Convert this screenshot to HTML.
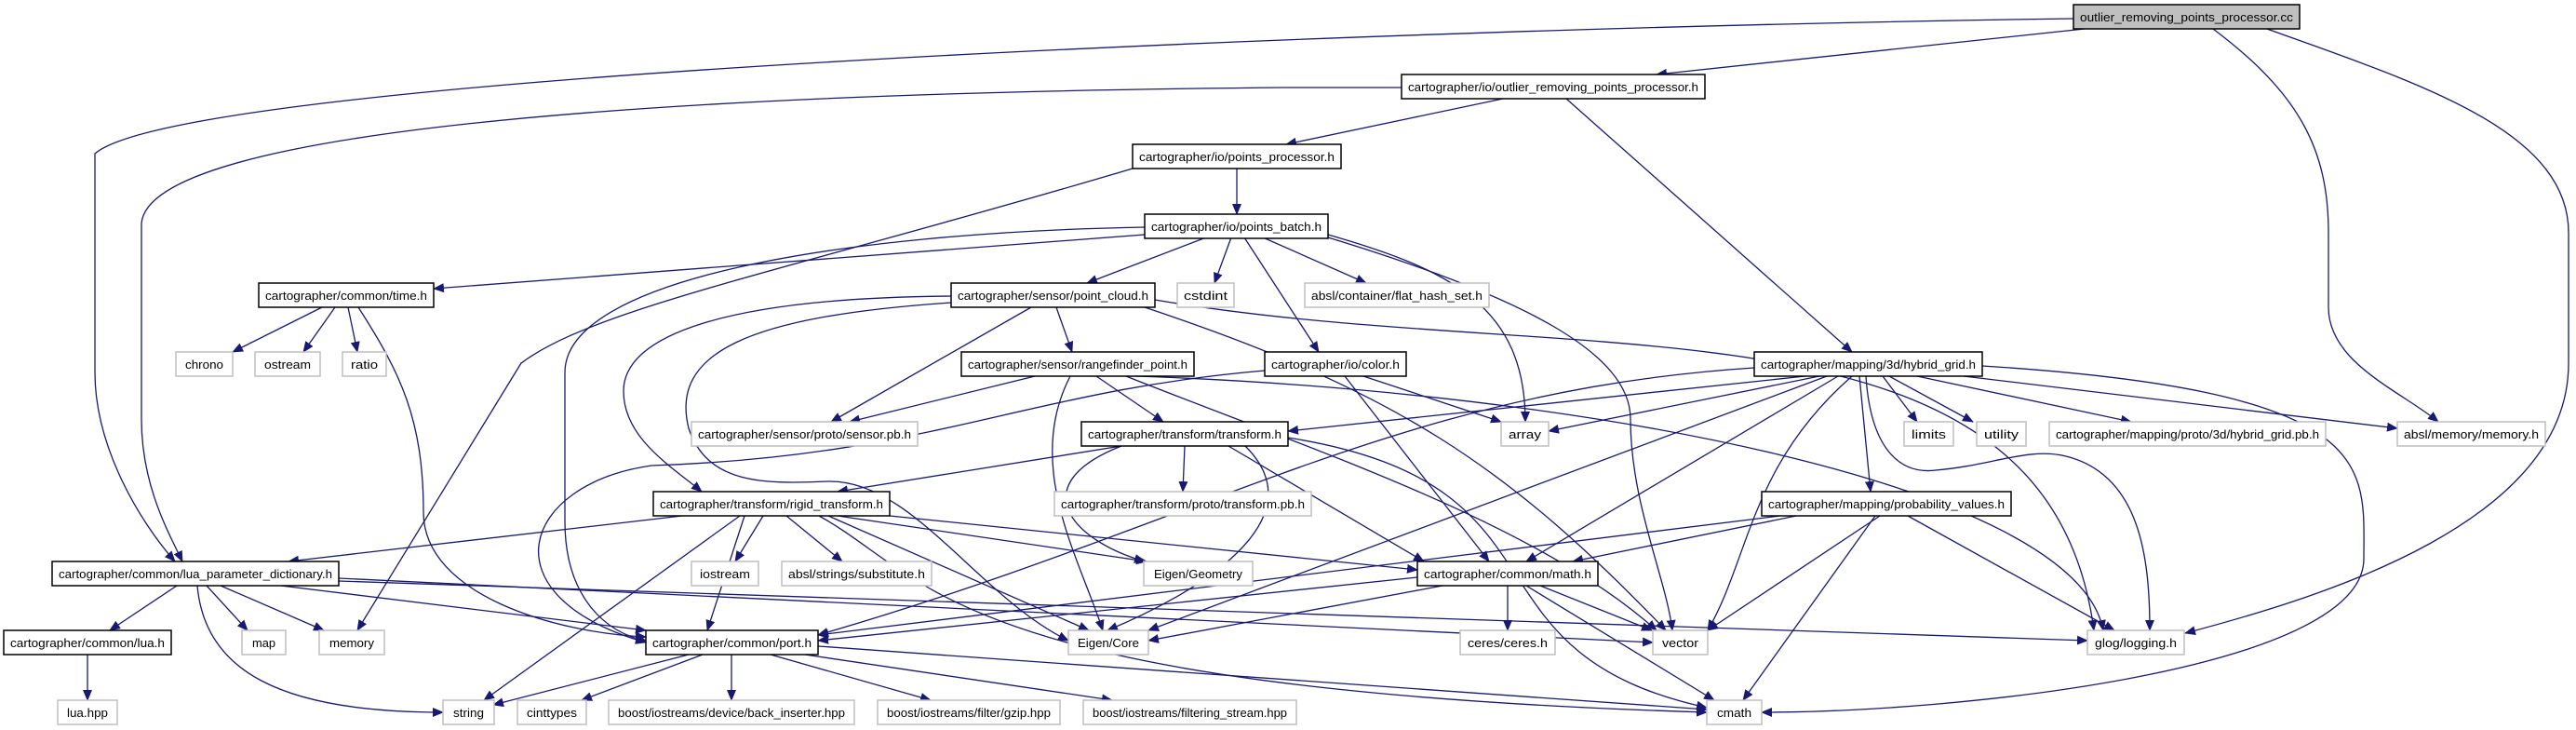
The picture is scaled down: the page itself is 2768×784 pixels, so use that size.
<!DOCTYPE html>
<html><head><meta charset="utf-8"><style>
html,body{margin:0;padding:0;background:#fff;}
svg{display:block;}
text{font-family:"Liberation Sans",sans-serif;font-size:13px;fill:#000;}
.e{fill:none;stroke:#191970;stroke-width:1.3;}
.b{fill:#fff;stroke:#000;stroke-width:1.5;}
.g{fill:#fff;stroke:#bfbfbf;stroke-width:1.5;}
</style></head><body>
<svg width="2768" height="784" viewBox="0 0 2768 784" xmlns="http://www.w3.org/2000/svg">
<defs><marker id="a" markerWidth="12" markerHeight="10" refX="11" refY="5" orient="auto" markerUnits="userSpaceOnUse"><path d="M0,0 L12,5 L0,10 z" fill="#191970"/></marker></defs>
<g class="e" marker-end="url(#a)">
<path d="M2240,31 L1780,80"/>
<path d="M2228,20 C1500,30 200,80 102,165 L102,400 C102,480 150,560 188,603"/>
<path d="M2378,31 C2470,100 2502,160 2502,250 L2502,330 C2502,390 2580,420 2620,453"/>
<path d="M2436,31 C2600,90 2760,140 2760,250 L2760,390 C2760,560 2500,640 2348,680"/>
<path d="M1615,106 L1382,155"/>
<path d="M1506,94 L1380,94 C700,100 160,140 152,240 L152,450 C152,520 180,570 196,603"/>
<path d="M1683,106 L1990,378"/>
<path d="M1329,181 L1329,230"/>
<path d="M1217,181 C850,290 640,330 560,390 L384,677"/>
<path d="M1230,252 L466,310"/>
<path d="M1296,255 L1168,304"/>
<path d="M1323,255 L1305,304"/>
<path d="M1357,255 L1468,304"/>
<path d="M1337,255 L1417,378"/>
<path d="M1427,252 C1560,290 1639,330 1639,453"/>
<path d="M1427,255 C1640,320 1752,380 1752,450 C1752,540 1790,620 1797,677"/>
<path d="M1230,244 C900,250 607,300 607,400 L607,560 C607,640 650,680 694,688"/>
<path d="M346,330 L250,378"/>
<path d="M360,330 L326,378"/>
<path d="M374,330 L384,378"/>
<path d="M385,330 C430,400 455,450 455,550 C455,640 600,680 694,684"/>
<path d="M1135,330 L1152,378"/>
<path d="M1108,330 L893,453"/>
<path d="M1022,318 C780,320 670,360 670,420 C670,470 720,500 754,528"/>
<path d="M1022,325 C800,340 720,380 740,460 C760,520 820,520 890,517 C980,515 1050,640 1148,688"/>
<path d="M1230,330 C1500,420 1620,500 1790,677"/>
<path d="M1241,322 C1700,400 2200,300 2250,677"/>
<path d="M1112,404 L913,453"/>
<path d="M1178,404 L1250,453"/>
<path d="M1150,404 C1100,500 1160,600 1185,677"/>
<path d="M1210,404 C1400,480 1650,560 1780,677"/>
<path d="M1220,404 C1700,420 2230,520 2260,677"/>
<path d="M1465,404 L1613,453"/>
<path d="M1445,404 L1600,603"/>
<path d="M1359,398 C1100,420 1000,490 700,500 C560,520 520,640 694,690"/>
<path d="M1205,479 L900,528"/>
<path d="M1273,479 L1271,528"/>
<path d="M1205,479 C1100,520 1150,580 1230,603"/>
<path d="M1320,479 L1530,603"/>
<path d="M1338,479 C1420,560 1280,640 1190,677"/>
<path d="M1384,470 C1700,520 1560,700 1834,760"/>
<path d="M733,554 L310,603"/>
<path d="M820,554 L790,603"/>
<path d="M845,554 L905,603"/>
<path d="M900,554 L1232,603"/>
<path d="M956,554 L1523,612"/>
<path d="M890,554 L1170,677"/>
<path d="M800,554 L760,677"/>
<path d="M795,554 L520,752"/>
<path d="M880,554 C1000,620 1020,740 1834,765"/>
<path d="M190,629 L118,677"/>
<path d="M222,629 L266,677"/>
<path d="M237,629 L348,677"/>
<path d="M302,629 L694,677"/>
<path d="M212,629 C220,720 300,765 476,765"/>
<path d="M364,621 L1776,690"/>
<path d="M364,624 L2243,688"/>
<path d="M94,703 L94,752"/>
<path d="M740,703 L530,757"/>
<path d="M755,703 L625,752"/>
<path d="M786,703 L786,752"/>
<path d="M828,703 L1000,752"/>
<path d="M865,703 L1195,752"/>
<path d="M879,694 L1834,762"/>
<path d="M1523,620 L879,688"/>
<path d="M1550,629 L1234,688"/>
<path d="M1620,629 L1620,677"/>
<path d="M1655,629 L1775,677"/>
<path d="M1640,629 L1842,752"/>
<path d="M1930,554 L1690,603"/>
<path d="M1913,554 L879,682"/>
<path d="M2020,554 L1835,677"/>
<path d="M2015,554 L1873,752"/>
<path d="M2050,554 L2272,677"/>
<path d="M1940,404 L1384,463"/>
<path d="M1955,404 L1664,463"/>
<path d="M2023,404 L2060,453"/>
<path d="M2030,404 L2120,453"/>
<path d="M2060,404 L2290,453"/>
<path d="M2110,404 L2576,460"/>
<path d="M1975,404 L1640,603"/>
<path d="M1963,404 L1234,677"/>
<path d="M1990,404 C1880,500 1880,600 1835,677"/>
<path d="M1998,404 L2010,528"/>
<path d="M2005,404 C2010,480 2040,510 2080,505 C2140,500 2180,480 2220,490 C2300,510 2310,600 2310,677"/>
<path d="M2130,393 C2560,420 2540,500 2540,600 C2540,720 2100,765 1893,765"/>
<path d="M1885,395 C1500,420 1300,560 879,682"/>
</g>
<g>
<rect x="2228" y="5" width="243" height="26" fill="#bfbfbf" stroke="#000" stroke-width="1.5"/>
<text x="2235" y="23" textLength="229" lengthAdjust="spacingAndGlyphs">outlier_removing_points_processor.cc</text>
</g>
<g>
<rect class="b" x="1506" y="80" width="326" height="26"/><text x="1513" y="98" textLength="312" lengthAdjust="spacingAndGlyphs">cartographer/io/outlier_removing_points_processor.h</text>
<rect class="b" x="1217" y="155" width="224" height="26"/><text x="1224" y="173" textLength="210" lengthAdjust="spacingAndGlyphs">cartographer/io/points_processor.h</text>
<rect class="b" x="1230" y="230" width="197" height="26"/><text x="1237" y="248" textLength="183" lengthAdjust="spacingAndGlyphs">cartographer/io/points_batch.h</text>
<rect class="b" x="278" y="304" width="188" height="26"/><text x="285" y="322" textLength="174" lengthAdjust="spacingAndGlyphs">cartographer/common/time.h</text>
<rect class="b" x="1022" y="304" width="219" height="26"/><text x="1029" y="322" textLength="205" lengthAdjust="spacingAndGlyphs">cartographer/sensor/point_cloud.h</text>
<rect class="g" x="1265" y="304" width="61" height="26"/><text x="1272" y="322" textLength="47" lengthAdjust="spacingAndGlyphs">cstdint</text>
<rect class="g" x="1402" y="304" width="198" height="26"/><text x="1409" y="322" textLength="184" lengthAdjust="spacingAndGlyphs">absl/container/flat_hash_set.h</text>
<rect class="g" x="189" y="378" width="61" height="26"/><text x="199" y="396" textLength="41" lengthAdjust="spacingAndGlyphs">chrono</text>
<rect class="g" x="274" y="378" width="70" height="26"/><text x="284" y="396" textLength="50" lengthAdjust="spacingAndGlyphs">ostream</text>
<rect class="g" x="368" y="378" width="47" height="26"/><text x="377" y="396" textLength="29" lengthAdjust="spacingAndGlyphs">ratio</text>
<rect class="b" x="1033" y="378" width="250" height="26"/><text x="1040" y="396" textLength="236" lengthAdjust="spacingAndGlyphs">cartographer/sensor/rangefinder_point.h</text>
<rect class="b" x="1359" y="378" width="152" height="26"/><text x="1366" y="396" textLength="138" lengthAdjust="spacingAndGlyphs">cartographer/io/color.h</text>
<rect class="b" x="1885" y="378" width="245" height="26"/><text x="1892" y="396" textLength="231" lengthAdjust="spacingAndGlyphs">cartographer/mapping/3d/hybrid_grid.h</text>
<rect class="g" x="743" y="453" width="243" height="26"/><text x="750" y="471" textLength="229" lengthAdjust="spacingAndGlyphs">cartographer/sensor/proto/sensor.pb.h</text>
<rect class="b" x="1162" y="453" width="222" height="26"/><text x="1169" y="471" textLength="208" lengthAdjust="spacingAndGlyphs">cartographer/transform/transform.h</text>
<rect class="g" x="1613" y="453" width="51" height="26"/><text x="1621" y="471" textLength="35" lengthAdjust="spacingAndGlyphs">array</text>
<rect class="g" x="2046" y="453" width="53" height="26"/><text x="2054" y="471" textLength="37" lengthAdjust="spacingAndGlyphs">limits</text>
<rect class="g" x="2124" y="453" width="53" height="26"/><text x="2132" y="471" textLength="37" lengthAdjust="spacingAndGlyphs">utility</text>
<rect class="g" x="2202" y="453" width="297" height="26"/><text x="2209" y="471" textLength="283" lengthAdjust="spacingAndGlyphs">cartographer/mapping/proto/3d/hybrid_grid.pb.h</text>
<rect class="g" x="2576" y="453" width="159" height="26"/><text x="2583" y="471" textLength="145" lengthAdjust="spacingAndGlyphs">absl/memory/memory.h</text>
<rect class="b" x="702" y="528" width="254" height="26"/><text x="709" y="546" textLength="240" lengthAdjust="spacingAndGlyphs">cartographer/transform/rigid_transform.h</text>
<rect class="g" x="1133" y="528" width="276" height="26"/><text x="1140" y="546" textLength="262" lengthAdjust="spacingAndGlyphs">cartographer/transform/proto/transform.pb.h</text>
<rect class="b" x="1893" y="528" width="268" height="26"/><text x="1900" y="546" textLength="254" lengthAdjust="spacingAndGlyphs">cartographer/mapping/probability_values.h</text>
<rect class="b" x="56" y="603" width="308" height="26"/><text x="63" y="621" textLength="294" lengthAdjust="spacingAndGlyphs">cartographer/common/lua_parameter_dictionary.h</text>
<rect class="g" x="743" y="603" width="72" height="26"/><text x="752" y="621" textLength="54" lengthAdjust="spacingAndGlyphs">iostream</text>
<rect class="g" x="840" y="603" width="161" height="26"/><text x="847" y="621" textLength="147" lengthAdjust="spacingAndGlyphs">absl/strings/substitute.h</text>
<rect class="g" x="1229" y="603" width="117" height="26"/><text x="1240" y="621" textLength="95" lengthAdjust="spacingAndGlyphs">Eigen/Geometry</text>
<rect class="b" x="1523" y="603" width="194" height="26"/><text x="1530" y="621" textLength="180" lengthAdjust="spacingAndGlyphs">cartographer/common/math.h</text>
<rect class="b" x="4" y="677" width="180" height="26"/><text x="11" y="695" textLength="166" lengthAdjust="spacingAndGlyphs">cartographer/common/lua.h</text>
<rect class="g" x="260" y="677" width="47" height="26"/><text x="271" y="695" textLength="25" lengthAdjust="spacingAndGlyphs">map</text>
<rect class="g" x="343" y="677" width="70" height="26"/><text x="354" y="695" textLength="48" lengthAdjust="spacingAndGlyphs">memory</text>
<rect class="b" x="694" y="677" width="185" height="26"/><text x="701" y="695" textLength="171" lengthAdjust="spacingAndGlyphs">cartographer/common/port.h</text>
<rect class="g" x="1148" y="677" width="86" height="26"/><text x="1158" y="695" textLength="66" lengthAdjust="spacingAndGlyphs">Eigen/Core</text>
<rect class="g" x="1569" y="677" width="102" height="26"/><text x="1577" y="695" textLength="86" lengthAdjust="spacingAndGlyphs">ceres/ceres.h</text>
<rect class="g" x="1776" y="677" width="59" height="26"/><text x="1786" y="695" textLength="39" lengthAdjust="spacingAndGlyphs">vector</text>
<rect class="g" x="2243" y="677" width="104" height="26"/><text x="2251" y="695" textLength="88" lengthAdjust="spacingAndGlyphs">glog/logging.h</text>
<rect class="g" x="62" y="752" width="64" height="26"/><text x="72" y="770" textLength="44" lengthAdjust="spacingAndGlyphs">lua.hpp</text>
<rect class="g" x="476" y="752" width="55" height="26"/><text x="487" y="770" textLength="33" lengthAdjust="spacingAndGlyphs">string</text>
<rect class="g" x="556" y="752" width="74" height="26"/><text x="566" y="770" textLength="54" lengthAdjust="spacingAndGlyphs">cinttypes</text>
<rect class="g" x="654" y="752" width="264" height="26"/><text x="664" y="770" textLength="244" lengthAdjust="spacingAndGlyphs">boost/iostreams/device/back_inserter.hpp</text>
<rect class="g" x="943" y="752" width="196" height="26"/><text x="953" y="770" textLength="176" lengthAdjust="spacingAndGlyphs">boost/iostreams/filter/gzip.hpp</text>
<rect class="g" x="1164" y="752" width="229" height="26"/><text x="1174" y="770" textLength="209" lengthAdjust="spacingAndGlyphs">boost/iostreams/filtering_stream.hpp</text>
<rect class="g" x="1834" y="752" width="59" height="26"/><text x="1845" y="770" textLength="37" lengthAdjust="spacingAndGlyphs">cmath</text>
</g>
</svg>
</body></html>
